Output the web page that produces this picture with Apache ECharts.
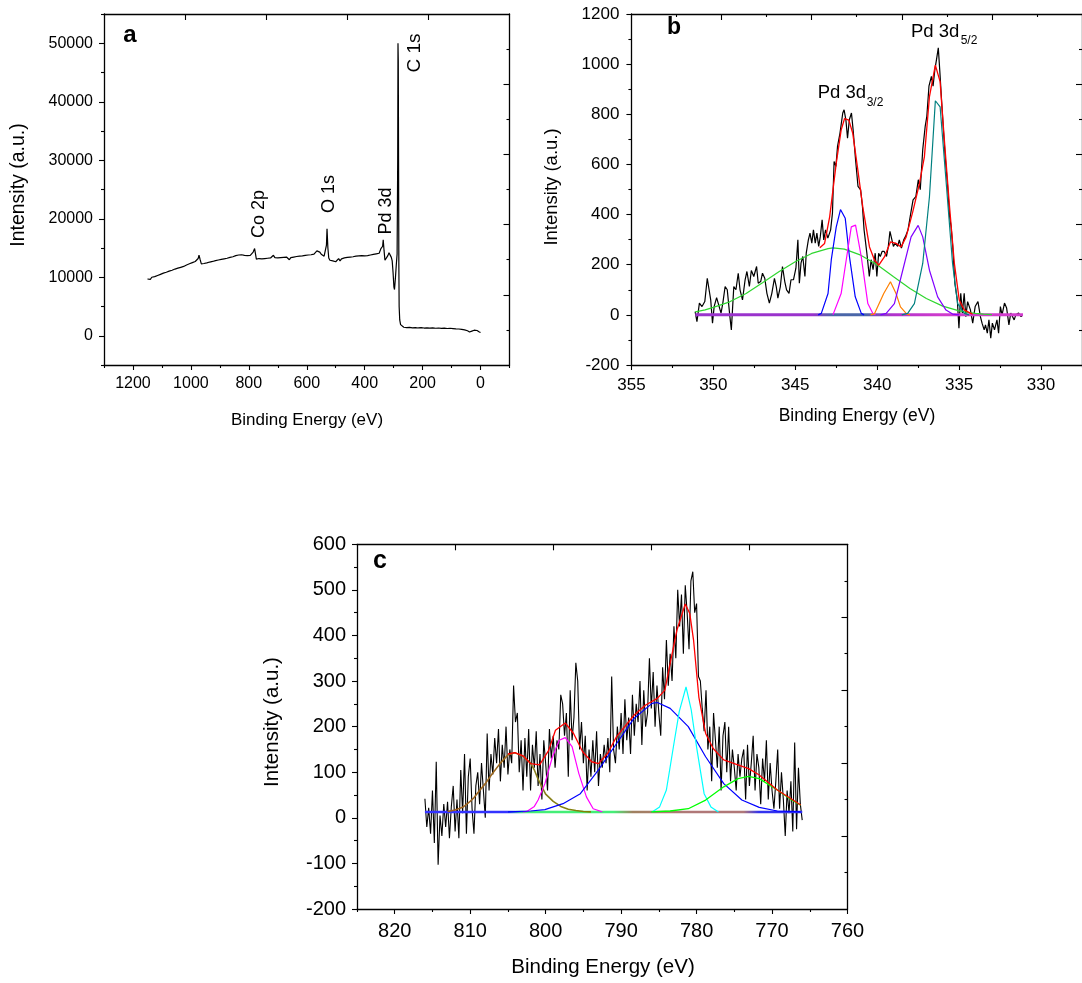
<!DOCTYPE html>
<html><head><meta charset="utf-8">
<script src="https://cdn.jsdelivr.net/npm/echarts@6/dist/echarts.min.js"></script>
<style>html,body{margin:0;padding:0;background:#fff}#c{width:1082px;height:983px}</style>
</head><body><div id="c"></div>
<script>
// ---------------- DATA ----------------
// Panel a: survey spectrum [binding energy eV, intensity]
const aSurvey = [
[1150,9700],[1145,9900],[1140,9650],[1135,10000],[1130,9850],[1125,10100],[1120,10000],[1115,10300],[1110,10150],[1105,10500],
[1100,10450],[1095,10700],[1090,10600],[1085,10850],[1080,10750],[1075,11050],[1070,10950],[1065,11200],[1060,11100],[1055,11400],
[1050,11250],[1045,11550],[1040,11450],[1035,11700],[1030,11600],[1025,11850],[1020,11750],[1015,12100],[1010,12000],[1005,12300],
[1000,12200],[995,12500],[990,12400],[985,12700],[980,12800],[975,13200],[972,13800],[968,13000],[964,12300],[960,12500],
[955,12350],[950,12600],[945,12450],[940,12750],[935,12600],[930,12850],[925,12700],[920,12950],[915,12850],[910,13100],
[905,12950],[900,13200],[895,13050],[890,13300],[885,13150],[880,13400],[875,13250],[870,13500],[865,13400],[860,13650],
[855,13500],[850,13800],[845,13700],[840,13950],[835,13800],[830,14050],[825,13850],[820,14000],[815,13750],[810,13900],
[805,13700],[800,13850],[795,13750],[790,14000],[785,14300],[780,14900],[777,14000],[774,13100],[770,12900],[765,13200],
[760,12900],[755,13150],[750,13000],[745,13200],[740,12950],[735,13250],[730,13050],[725,13300],[720,13500],[715,13750],
[710,13350],[705,13100],[700,13300],[695,13050],[690,13350],[685,13150],[680,13400],[675,13200],[670,13450],[665,13300],
[660,13000],[655,13350],[650,13200],[645,13450],[640,13300],[635,13550],[630,13350],[625,13600],[620,13450],[615,13650],
[610,13500],[605,13750],[600,13600],[595,13800],[590,13650],[585,13850],[580,13700],[575,13950],[570,14200],[565,14500],
[560,14800],[555,14300],[550,13950],[545,13800],[540,13600],[535,13700],[532,15500],[530,18300],[527,15000],[524,13300],
[520,12900],[515,13100],[510,12800],[505,13050],[500,12650],[495,12900],[490,13200],[485,12800],[480,13150],[475,12950],
[470,13300],[465,13100],[460,13400],[455,13200],[450,13450],[445,13250],[440,13500],[435,13350],[430,13600],[425,13400],
[420,13650],[415,13450],[410,13700],[405,13500],[400,13650],[395,13450],[390,13700],[385,13550],[380,13800],[375,13650],
[370,13900],[365,13750],[360,14000],[355,13850],[350,14100],[347,14300],[344,14900],[341,14700],[338,15300],[336,16400],
[333,14500],[330,12900],[327,12600],[324,13000],[320,13700],[316,14200],[312,14100],[308,13400],[305,12800],[302,10800],
[299,8300],[297,7900],[294,9800],[291,12000],[288,14000],[286,30000],[285,50000],[284,47000],[283,30000],[282,12000],
[281,5000],[279,2700],[276,1900],[272,1600],[265,1450],[255,1380],[245,1420],[235,1350],[225,1400],[215,1330],
[205,1380],[195,1320],[185,1360],[175,1300],[165,1340],[155,1280],[145,1320],[135,1260],[125,1300],[115,1240],
[105,1280],[95,1230],[85,1180],[75,1150],[65,1100],[55,1000],[45,850],[38,650],[30,800],[22,950],
[17,1050],[12,900],[8,750],[4,650],[0,560]
];
const aPeakLabels = ['Co 2p', 'O 1s', 'Pd 3d', 'C 1s'];

// Panel b: Pd 3d region
const bRaw = [
[351.11,13],[351.0,-27],[350.85,47],[350.69,33],[350.52,53],[350.37,146],[350.27,146],[350.16,60],[350.05,-33],[349.95,33],
[349.80,69],[349.68,73],[349.53,7],[349.42,47],[349.28,113],[349.15,100],[349.00,0],[348.90,-60],[348.75,113],[348.62,100],
[348.48,166],[348.37,100],[348.22,60],[348.06,140],[347.95,173],[347.80,113],[347.68,177],[347.53,153],[347.36,193],[347.26,126],
[347.11,133],[347.00,166],[346.86,146],[346.73,86],[346.58,47],[346.43,86],[346.27,146],[346.16,113],[346.06,67],[345.91,113],
[345.78,193],[345.64,133],[345.53,100],[345.38,86],[345.26,140],[345.11,140],[344.96,186],[344.84,299],[344.75,126],[344.65,206],
[344.54,233],[344.41,153],[344.33,246],[344.20,299],[344.10,326],[343.99,286],[343.89,339],[343.78,286],[343.68,326],[343.57,273],
[343.47,313],[343.36,379],[343.26,299],[343.15,339],[343.01,306],[342.84,339],[342.73,406],[342.63,612],[342.52,592],[342.42,672],
[342.27,725],[342.10,805],[342.02,818],[341.91,778],[341.81,705],[341.70,778],[341.57,805],[341.47,739],[341.32,619],[341.17,512],
[341.01,499],[340.90,432],[340.80,339],[340.63,246],[340.48,153],[340.37,220],[340.25,180],[340.12,246],[340.02,153],[339.91,246],
[339.81,233],[339.70,253],[339.57,253],[339.43,233],[339.32,273],[339.22,333],[339.11,326],[339.01,273],[338.90,286],[338.75,273],
[338.65,299],[338.52,266],[338.38,299],[338.27,313],[338.12,339],[337.95,406],[337.81,459],[337.64,472],[337.49,539],[337.37,499],
[337.22,659],[337.07,752],[336.97,792],[336.84,912],[336.69,951],[336.59,912],[336.48,978],[336.38,1018],[336.27,1065],[336.17,965],
[336.06,845],[335.96,739],[335.85,632],[335.70,512],[335.58,393],[335.49,353],[335.39,273],[335.26,126],[335.11,60],[335.01,-53],
[334.90,86],[334.80,7],[334.69,86],[334.59,-7],[334.48,53],[334.31,20],[334.17,-33],[334.02,33],[333.85,53],[333.70,-7],
[333.60,-33],[333.47,-60],[333.39,-40],[333.28,-73],[333.18,-20],[333.07,-93],[332.97,-33],[332.84,-60],[332.69,-20],[332.59,-73],
[332.48,33],[332.38,0],[332.23,47],[332.10,27],[331.96,-40],[331.85,7],[331.75,13],[331.64,-20],[331.54,0],[331.37,7],
[331.22,-7],[331.12,0]
];
const bEnvelope = [[343.5,268],[343.21,285],[342.9,391],[342.5,604],[342.2,737],[341.99,783],[341.73,777],[341.49,724],[341.18,577],[340.88,431],
[340.47,271],[340.16,218],[339.9,198],[339.56,231],[339.19,291],[338.85,285],[338.54,271],[338.23,311],[337.83,411],[337.42,524],
[337.12,630],[336.81,870],[336.45,996],[336.16,930],[335.9,697],[335.6,444],[335.29,205],[334.99,59],[334.68,19],[334.18,3]];
const bBroad = [[351.1,12],[350.5,20],[350,30],[349,52],[348,85],[347,128],[346,172],[345,212],[344,245],[343,264],[342.7,267],
[342,262],[341,238],[340,200],[339,152],[338,105],[337,65],[336,35],[335,16],[334.5,10],[334,6],[333.5,3],[333,1]];
const bBlue = [[343.6,0],[343.41,6],[343.0,85],[342.8,220],[342.5,350],[342.24,420],[341.95,385],[341.69,231],[341.34,72],[340.97,6],[340.8,0]];
const bMagenta = [[342.7,0],[342.6,2],[342.2,85],[341.95,193],[341.58,351],[341.32,358],[340.97,231],[340.57,45],[340.27,6],[340.1,0]];
const bOrange = [[340.4,0],[340.16,5],[339.6,85],[339.19,132],[338.85,85],[338.58,32],[338.19,3],[338.0,0]];
const bViolet = [[339.8,0],[339.45,6],[338.95,45],[338.44,178],[337.93,311],[337.5,357],[337.22,311],[336.81,178],[336.31,72],[335.8,19],[335.4,3],[335.0,0]];
const bTeal = [[338.5,0],[338.14,6],[337.73,45],[337.22,205],[336.81,471],[336.45,854],[336.16,830],[335.8,537],[335.4,205],[335.09,45],[334.68,6],[334.4,0]];
const bBaseline = [[351.1,0],[331.1,0]];

// Panel c: Co 2p region
const cEnergy = [
816,815.75,815.5,815.25,815,814.75,814.5,814.25,
814,813.75,813.5,813.25,813,812.75,812.5,812.25,
812,811.75,811.5,811.25,811,810.75,810.5,810.25,
810,809.75,809.5,809.25,809,808.75,808.5,808.25,
808,807.75,807.5,807.25,807,806.75,806.5,806.25,
806,805.75,805.5,805.25,805,804.75,804.5,804.25,
804,803.75,803.5,803.25,803,802.75,802.5,802.25,
802,801.75,801.5,801.25,801,800.75,800.5,800.25,
800,799.75,799.5,799.25,799,798.75,798.5,798.25,
798,797.75,797.5,797.25,797,796.75,796.5,796.25,
796,795.75,795.5,795.25,795,794.75,794.5,794.25,
794,793.75,793.5,793.25,793,792.75,792.5,792.25,
792,791.75,791.5,791.25,791,790.75,790.5,790.25,
790,789.75,789.5,789.25,789,788.75,788.5,788.25,
788,787.75,787.5,787.25,787,786.75,786.5,786.25,
786,785.75,785.5,785.25,785,784.75,784.5,784.25,
784,783.75,783.5,783.25,783,782.75,782.5,782.25,
782,781.75,781.5,781.25,781,780.75,780.5,780.25,
780,779.75,779.5,779.25,779,778.75,778.5,778.25,
778,777.75,777.5,777.25,777,776.75,776.5,776.25,
776,775.75,775.5,775.25,775,774.75,774.5,774.25,
774,773.75,773.5,773.25,773,772.75,772.5,772.25,
772,771.75,771.5,771.25,771,770.75,770.5,770.25,
770,769.75,769.5,769.25,769,768.75,768.5,768.25,
768,767.75,767.5,767.25,767,766.75,766.5,766.25,
766];
const cIntensity = [
42,-20,22,-35,60,-55,123,-103,
5,-40,30,-20,35,-45,25,70,
-30,40,-45,105,10,140,-35,90,
130,20,-35,70,100,30,120,60,
0,185,60,140,95,175,120,195,
80,160,110,200,95,150,120,290,
210,230,100,170,60,175,90,195,
60,160,110,190,70,140,40,170,
120,60,195,130,180,110,170,150,
270,250,180,230,90,280,170,220,
340,300,150,210,120,180,60,150,
90,170,100,190,70,140,110,160,
120,175,100,310,150,120,200,150,
230,140,260,170,220,140,270,180,
250,210,300,160,280,200,230,350,
240,320,200,290,230,180,330,260,
390,290,360,300,420,350,500,420,
490,360,510,450,370,520,540,450,
470,310,300,240,190,280,150,200,
80,230,170,110,200,60,180,210,
100,200,80,150,110,60,140,90,
130,150,40,160,70,120,180,60,
140,110,30,130,80,170,40,120,
60,20,80,150,20,100,40,-40,
60,10,80,-30,165,-25,110,30,
-5];
const cEnvelope = [[805,140],[804.1,143],[803,136],[802,119],[800.8,116],[799.6,148],[798.7,192],[797.4,208],[796.3,185],[795.1,145],
[793.9,123],[793,119],[791.8,141],[790.6,178],[788.3,225],[786.8,247],[785.2,262],[784.2,280],[783.5,339],[782.6,412],
[781.5,469],[780.9,448],[780.4,390],[779.7,265],[778.8,185],[777.8,152],[776.4,127],[775,119],[773.1,108],[771.7,94],[769.3,61],[766.2,28]];
const cSatellite = [[813,14],[812,17],[811,23],[810,36],[809.5,44],[809,55],[808,75],[807.2,94],[806,120],[805,138],[804.1,143],
[803,135],[802,120],[801.5,105],[801,85],[800.5,68],[800,52],[799,36],[798,25],[797,19],[796,16],[795,14],[794,13]];
const cMagenta = [[803,13],[802.5,14],[801.5,25],[801,39],[800.1,75],[799.1,134],[798.2,170],[797.4,176],[796.5,156],[795.6,97],[794.6,46],[793.7,20],[792.5,13]];
const cBlue = [[805,13],[802,15],[800.1,18],[797.7,31],[795.4,53],[793,105],[790.6,163],[788.3,218],[785.9,251],[785.2,253],[783.5,240],
[781.1,200],[778.8,134],[776.4,75],[774,39],[771.7,23],[769.3,15],[766.2,13]];
const cCyan = [[785.9,13],[784.9,24],[784,61],[783,163],[782.3,233],[781.4,287],[780.7,236],[780,155],[779,53],[778.1,24],[777.1,13]];
const cGreen = [[786,13],[783.5,15],[781.1,20],[778.8,39],[776.4,68],[774.5,86],[773.1,91],[771.7,86],[769.3,61],[767.4,39],[766.2,28]];
const cBaseline = [[816,13],[766,13]];

// Tick values
const aXMajor = [0,200,400,600,800,1000,1200];
const aXMinor = [-100,100,300,500,700,900,1100,1300];
const aYMajor = [0,10000,20000,30000,40000,50000];
const aYMinor = [-5000,5000,15000,25000,35000,45000,55000];
const bXMajor = [330,335,340,345,350,355];
const bXMinor = [327.5,332.5,337.5,342.5,347.5,352.5];
const bYMajor = [-200,0,200,400,600,800,1000,1200];
const bYMinor = [-100,100,300,500,700,900,1100];
const cXMajor = [760,770,780,790,800,810,820];
const cXMinor = [765,775,785,795,805,815,825];
const cYMajor = [-200,-100,0,100,200,300,400,500,600];
const cYMinor = [-150,-50,50,150,250,350,450,550];
const frameMajor = [2,4,6,8];
const frameMinor = [1,3,5,7,9];

// ---------------- CHART ----------------
const FONT = "'Liberation Sans', Arial, Helvetica, sans-serif";
function mkAxis(g, min, max, pos, inv, o) {
  return {
    type: 'value', gridIndex: g, min: min, max: max, position: pos, inverse: !!inv,
    splitLine: {show: false}, minorTick: {show: false}, minorSplitLine: {show: false},
    axisLine: {show: !!o.line, onZero: false, lineStyle: {color: '#000', width: 1.3}},
    axisTick: {show: !!o.ticks, inside: !!o.inside, length: o.len || 5, customValues: o.ticks || [], lineStyle: {color: '#000', width: 1.1}},
    axisLabel: o.fs ? {show: true, customValues: o.ticks, fontSize: o.fs, color: '#000', fontFamily: FONT, margin: o.margin, formatter: v => String(v)} : {show: false},
    axisPointer: {show: false}, silent: true, z: 10
  };
}
function ln(data, xi, yi, color, w, z) {
  return {type: 'line', data: data, xAxisIndex: xi, yAxisIndex: yi, showSymbol: false, symbol: 'none',
    lineStyle: {color: color, width: w}, itemStyle: {color: color}, z: z, silent: true, animation: false, clip: true};
}
function grad(stops) {
  return {type: 'linear', x: 0, y: 0, x2: 1, y2: 0, colorStops: stops.map(s => ({offset: s[0], color: s[1]}))};
}
function txt(x, y, s, size, o) {
  o = o || {};
  return {type: 'text', x: x, y: y, rotation: o.rot || 0, silent: true, z: 100,
    style: {text: s, fontSize: size, fontFamily: FONT, fontWeight: o.bold ? 'bold' : 'normal', fill: '#000',
      textAlign: o.align || 'center', textVerticalAlign: 'middle', align: o.align || 'center', verticalAlign: 'middle'}};
}

const cRaw = cEnergy.map((e, i) => [e, cIntensity[i]]);

const option = {
  animation: false,
  backgroundColor: '#fff',
  grid: [
    {left: 104, top: 14, width: 405.5, height: 351},
    {left: 631.4, top: 14, width: 451.6, height: 351},
    {left: 357, top: 544.3, width: 490.5, height: 364.7}
  ],
  xAxis: [
    mkAxis(0, -100, 1300, 'bottom', true, {line: 1, ticks: aXMajor, len: 5, fs: 16, margin: 11}),
    mkAxis(0, -100, 1300, 'bottom', true, {ticks: aXMinor, len: 3}),
    mkAxis(0, 0, 10, 'top', false, {line: 1, ticks: frameMajor, inside: 1, len: 6}),
    mkAxis(1, 327.5, 355, 'bottom', true, {line: 1, ticks: bXMajor, len: 5, fs: 17, margin: 12}),
    mkAxis(1, 327.5, 355, 'bottom', true, {ticks: bXMinor, len: 3}),
    mkAxis(1, 0, 10, 'top', false, {line: 1, ticks: frameMajor, inside: 1, len: 6}),
    mkAxis(1, 0, 10, 'top', false, {ticks: frameMinor, inside: 1, len: 3}),
    mkAxis(2, 760, 825, 'bottom', true, {line: 1, ticks: cXMajor, len: 5, fs: 20, margin: 12}),
    mkAxis(2, 760, 825, 'bottom', true, {ticks: cXMinor, len: 3}),
    mkAxis(2, 0, 10, 'top', false, {line: 1, ticks: frameMajor, inside: 1, len: 6})
  ],
  yAxis: [
    mkAxis(0, -5000, 55000, 'left', false, {line: 1, ticks: aYMajor, len: 5, fs: 16, margin: 11}),
    mkAxis(0, -5000, 55000, 'left', false, {ticks: aYMinor, len: 3}),
    mkAxis(0, 0, 10, 'right', false, {line: 1, ticks: frameMajor, inside: 1, len: 6}),
    mkAxis(0, 0, 10, 'right', false, {ticks: frameMinor, inside: 1, len: 3}),
    mkAxis(1, -200, 1200, 'left', false, {line: 1, ticks: bYMajor, len: 5, fs: 17, margin: 12}),
    mkAxis(1, -200, 1200, 'left', false, {ticks: bYMinor, len: 3}),
    mkAxis(1, 0, 10, 'right', false, {line: 1, ticks: frameMajor, inside: 1, len: 6}),
    mkAxis(1, 0, 10, 'right', false, {ticks: frameMinor, inside: 1, len: 3}),
    mkAxis(2, -200, 600, 'left', false, {line: 1, ticks: cYMajor, len: 5, fs: 20, margin: 11}),
    mkAxis(2, -200, 600, 'left', false, {ticks: cYMinor, len: 3}),
    mkAxis(2, 0, 10, 'right', false, {line: 1, ticks: frameMajor, inside: 1, len: 6}),
    mkAxis(2, 0, 10, 'right', false, {ticks: frameMinor, inside: 1, len: 3})
  ],
  series: [
    ln(aSurvey, 0, 0, '#000', 1.2, 2),

    ln(bRaw, 3, 4, '#000', 1.2, 2),
    ln(bBaseline, 3, 4, grad([[0,'#9a33cc'],[0.36,'#9a33cc'],[0.42,'#4a66a8'],[0.52,'#4a66a8'],[0.6,'#b033cc'],[0.75,'#d03ccc'],[1,'#d03ccc']]), 3, 3),
    ln(bBroad, 3, 4, '#2fd62f', 1.2, 4),
    ln(bBlue, 3, 4, '#0000ff', 1.2, 4),
    ln(bMagenta, 3, 4, '#ff00ff', 1.2, 4),
    ln(bOrange, 3, 4, '#ff8000', 1.2, 4),
    ln(bViolet, 3, 4, '#8000ff', 1.2, 4),
    ln(bTeal, 3, 4, '#008080', 1.2, 4),
    ln(bEnvelope, 3, 4, '#ff0000', 1.3, 5),

    ln(cRaw, 7, 8, '#000', 1.1, 2),
    ln(cBaseline, 7, 8, grad([[0,'#3333ff'],[0.22,'#3333ff'],[0.27,'#44ee77'],[0.5,'#44ee77'],[0.55,'#a08060'],[0.7,'#b07878'],[0.84,'#b07878'],[0.88,'#3333ee'],[1,'#3333ee']]), 2.5, 3),
    ln(cSatellite, 7, 8, grad([[0,'#a0601e'],[0.45,'#9a6a1e'],[0.6,'#8a8020'],[1,'#808000']]), 1.6, 4),
    ln(cMagenta, 7, 8, '#ff00ff', 1.2, 4),
    ln(cBlue, 7, 8, '#0000ff', 1.2, 4),
    ln(cCyan, 7, 8, '#00ffff', 1.2, 4),
    ln(cGreen, 7, 8, '#00ff00', 1.3, 4),
    ln(cEnvelope, 7, 8, '#ff0000', 1.3, 5)
  ],
  graphic: [
    // panel a
    txt(130, 35, 'a', 24, {bold: 1}),
    txt(259, 214, aPeakLabels[0], 18, {rot: Math.PI / 2}),
    txt(329, 194, aPeakLabels[1], 18, {rot: Math.PI / 2}),
    txt(386, 211, aPeakLabels[2], 18, {rot: Math.PI / 2}),
    txt(414.5, 53, aPeakLabels[3], 19, {rot: Math.PI / 2}),
    txt(307, 420, 'Binding Energy (eV)', 17),
    txt(19, 185, 'Intensity (a.u.)', 19.5, {rot: Math.PI / 2}),
    // panel b
    txt(674, 28, 'b', 23, {bold: 1}),
    txt(817.7, 93, 'Pd 3d', 18.5, {align: 'left'}),
    txt(866.7, 103, '3/2', 12, {align: 'left'}),
    txt(911, 31.5, 'Pd 3d', 18.5, {align: 'left'}),
    txt(960.7, 41, '5/2', 12, {align: 'left'}),
    txt(857, 416.5, 'Binding Energy (eV)', 17.5),
    txt(552, 187, 'Intensity (a.u.)', 18.5, {rot: Math.PI / 2}),
    // panel c
    txt(380, 561, 'c', 25, {bold: 1}),
    txt(603, 967, 'Binding Energy (eV)', 20.5),
    txt(272, 722, 'Intensity (a.u.)', 20.5, {rot: Math.PI / 2})
  ]
};
const chart = echarts.init(document.getElementById('c'), null, {renderer: 'canvas'});
chart.setOption(option);
</script></body></html>
